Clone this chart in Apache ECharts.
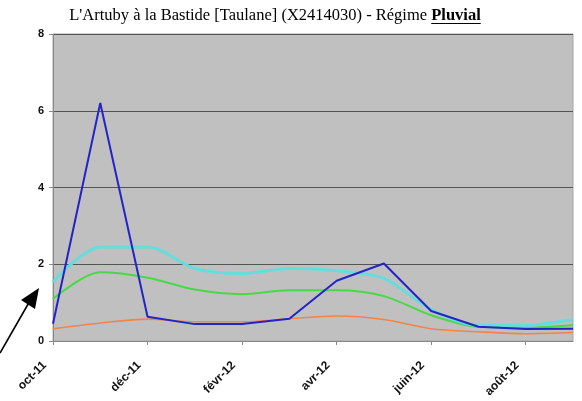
<!DOCTYPE html>
<html><head><meta charset="utf-8">
<script src="https://cdn.jsdelivr.net/npm/echarts@6/dist/echarts.min.js"></script>
<style>html,body{margin:0;padding:0;background:#fff}#c{width:582px;height:401px}</style>
</head><body><div id="c"></div>
<script>
const months = ['oct-11','nov-11','déc-11','janv-12','févr-12','mars-12','avr-12','mai-12','juin-12','juil-12','août-12','sept-12'];
const blueSeries   = [0.45, 6.2, 0.63, 0.44, 0.44, 0.58, 1.57, 2.02, 0.78, 0.37, 0.31, 0.32];
const cyanSeries   = [1.54, 2.45, 2.45, 1.89, 1.76, 1.89, 1.83, 1.63, 0.82, 0.41, 0.41, 0.56];
const greenSeries  = [1.10, 1.79, 1.65, 1.34, 1.22, 1.32, 1.32, 1.17, 0.67, 0.37, 0.35, 0.41];
const orangeSeries = [0.32, 0.47, 0.57, 0.50, 0.50, 0.58, 0.65, 0.56, 0.32, 0.24, 0.19, 0.22];
const yTicks = [0, 2, 4, 6, 8];
const titleMain = "L'Artuby à la Bastide [Taulane] (X2414030) - Régime ";
const titleBold = "Pluvial";

const fs = 16.5;
const ctx = document.createElement('canvas').getContext('2d');
ctx.font = fs + "px 'Liberation Serif'";
const wMain = ctx.measureText(titleMain).width;
ctx.font = "bold " + fs + "px 'Liberation Serif'";
const wBold = ctx.measureText(titleBold).width;
const tLeft = 275 - (wMain + wBold) / 2;
const ulY = 23.5;

const chart = echarts.init(document.getElementById('c'));
chart.setOption({
  animation: false,
  grid: {left: 53, right: 9, top: 34, bottom: 60, show: true, backgroundColor: '#c0c0c0', borderColor: '#a8a8a8', borderWidth: 1},
  xAxis: {
    type: 'category', data: months, boundaryGap: false,
    axisLine: {lineStyle: {color: '#888', width: 1}},
    axisTick: {interval: 1, length: 4, lineStyle: {color: '#888'}},
    axisLabel: {interval: 1, rotate: 45, fontFamily: 'Liberation Sans', fontWeight: 'bold', fontSize: 12, color: '#111', margin: 14, padding: [0, 12, 0, 0]},
    splitLine: {show: false}
  },
  yAxis: {
    type: 'value', min: yTicks[0], max: yTicks[yTicks.length-1], interval: 2,
    axisLine: {show: true, lineStyle: {color: '#888'}},
    axisTick: {show: true, length: 4, lineStyle: {color: '#888'}},
    axisLabel: {fontFamily: 'Liberation Sans', fontWeight: 'bold', fontSize: 11, color: '#111', margin: 9},
    splitLine: {lineStyle: {color: '#555', width: 1}}
  },
  series: [
    {type: 'line', data: orangeSeries, smooth: 0.3, symbol: 'none', lineStyle: {color: '#f0844a', width: 1.6}},
    {type: 'line', data: greenSeries, smooth: 0.3, symbol: 'none', lineStyle: {color: '#48d848', width: 2}},
    {type: 'line', data: cyanSeries, smooth: 0.3, symbol: 'none', lineStyle: {color: '#66dcdc', width: 3}},
    {type: 'line', data: blueSeries, symbol: 'none', lineStyle: {color: '#2424c4', width: 2}}
  ],
  graphic: [
    {type: 'text', left: tLeft, top: 7, style: {text: titleMain, font: fs + "px 'Liberation Serif'", fill: '#000'}},
    {type: 'text', left: tLeft + wMain, top: 7, style: {text: titleBold, font: "bold " + fs + "px 'Liberation Serif'", fill: '#000'}},
    {type: 'line', shape: {x1: tLeft + wMain, y1: ulY, x2: tLeft + wMain + wBold, y2: ulY}, style: {stroke: '#000', lineWidth: 1}},
    {type: 'line', shape: {x1: 0, y1: 353, x2: 31, y2: 299}, style: {stroke: '#000', lineWidth: 1.6}},
    {type: 'polygon', shape: {points: [[39, 288], [21, 300], [35, 309]]}, style: {fill: '#000'}}
  ]
});
</script></body></html>
